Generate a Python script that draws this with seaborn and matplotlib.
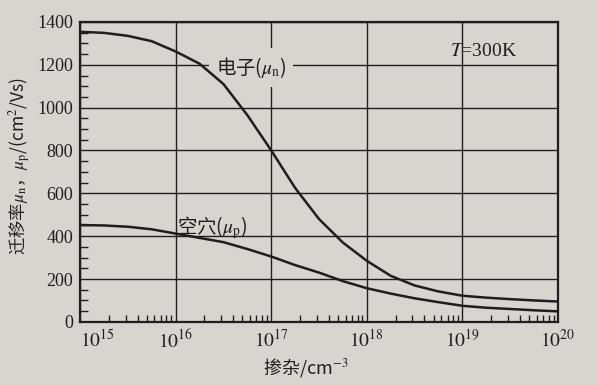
import matplotlib
matplotlib.use('Agg')
import matplotlib.pyplot as plt
import seaborn as sns
import pandas as pd
from matplotlib.ticker import MultipleLocator, LogLocator, NullFormatter, FixedLocator

# doping concentration (cm^-3), quarter-decade steps
doping = [1e15, 1.778e15, 3.162e15, 5.623e15,
          1e16, 1.778e16, 3.162e16, 5.623e16,
          1e17, 1.778e17, 3.162e17, 5.623e17,
          1e18, 1.778e18, 3.162e18, 5.623e18,
          1e19, 1.778e19, 3.162e19, 5.623e19, 1e20]
electron = [1354, 1349, 1335, 1310, 1262, 1205, 1110, 965, 800, 625, 480,
            370, 285, 215, 170, 142, 122, 113, 106, 100, 95]
hole = [452, 450, 444, 432, 412, 392, 372, 340, 305, 265, 230,
        190, 157, 132, 110, 92, 75, 66, 60, 54, 49]

x_ticks = [1e15, 1e16, 1e17, 1e18, 1e19, 1e20]
x_labels = ['$10^{15}$', '$10^{16}$', '$10^{17}$', '$10^{18}$', '$10^{19}$', '$10^{20}$']
y_ticks = [0, 200, 400, 600, 800, 1000, 1200, 1400]

bg = '#d7d5d0'
ink = '#1e1e1e'

sns.set_style('ticks')
plt.rcParams['mathtext.fontset'] = 'stix'
plt.rcParams['font.family'] = ['Liberation Serif', 'Noto Sans CJK SC']

df = pd.DataFrame({
    'doping': doping + doping,
    'mobility': electron + hole,
    'carrier': ['n'] * len(doping) + ['p'] * len(doping),
})

fig = plt.figure(figsize=(5.98, 3.85), dpi=100, facecolor=bg)
ax = fig.add_axes([0.134, 0.164, 0.799, 0.779], facecolor=bg)

sns.lineplot(data=df, x='doping', y='mobility', hue='carrier',
             palette=[ink, ink], legend=False, ax=ax, lw=1.8, zorder=3)

ax.set_xscale('log')
ax.set_xlim(1e15, 1e20)
ax.set_ylim(0, 1400)

ax.xaxis.set_major_locator(FixedLocator(x_ticks))
ax.set_xticks(x_ticks, x_labels, fontsize=14)
ax.get_xticklabels()[0].set_ha('left')
ax.xaxis.set_minor_locator(LogLocator(base=10, subs=range(2, 10), numticks=20))
ax.xaxis.set_minor_formatter(NullFormatter())
ax.set_yticks(y_ticks, [str(v) for v in y_ticks], fontsize=13)
ax.yaxis.set_minor_locator(MultipleLocator(50))

ax.grid(True, which='major', color=ink, lw=1.0)
ax.tick_params(which='both', direction='in', color=ink, width=1.0)
ax.tick_params(which='major', length=0, pad=5, labelcolor=ink)
ax.tick_params(axis='x', which='minor', length=5)
ax.tick_params(axis='y', which='minor', length=6)
for s in ax.spines.values():
    s.set_color(ink)
    s.set_linewidth(1.6)

cjk = ['Noto Sans CJK SC']
ax.set_xlabel('掺杂/cm$^{-3}$', family=cjk, fontsize=13, color=ink)
ax.xaxis.set_label_coords(0.473, -0.115)
ax.set_ylabel('迁移率$\\mu_\\mathrm{n}$，$\\mu_\\mathrm{p}$/(cm$^2$/Vs)',
              family=cjk, fontsize=12.5, color=ink)
ax.yaxis.set_label_coords(-0.098, 0.52)

ax.text(10 ** 16.79, 1188, '电子($\\mu_\\mathrm{n}$)', family=cjk, fontsize=14,
        color=ink, ha='center', va='center', zorder=2.5,
        bbox=dict(facecolor=bg, edgecolor='none', pad=5))
ax.text(10 ** 16.38, 442, '空穴($\\mu_\\mathrm{p}$)', family=cjk, fontsize=14,
        color=ink, ha='center', va='center', zorder=4)
ax.text(10 ** 19.22, 1262, '$T$=300K', fontsize=14, color=ink,
        ha='center', va='center', zorder=4)

fig.savefig('out.png', dpi=100, facecolor=bg)
